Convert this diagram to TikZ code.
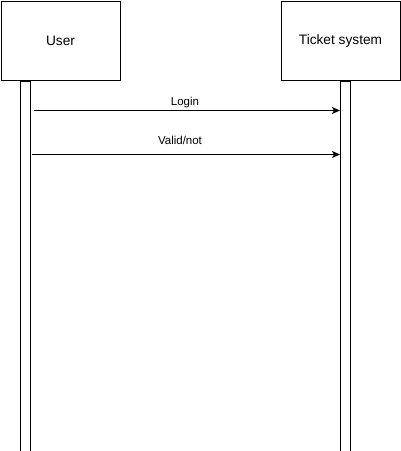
\documentclass[tikz,border=0pt]{standalone}
\usepackage{fontspec}
\setmainfont{Liberation Sans}
\usetikzlibrary{arrows.meta}
\begin{document}
\begin{tikzpicture}[x=1pt,y=-1pt,
  head/.style={draw,line width=1pt,minimum width=119pt,minimum height=79pt,inner sep=0pt,font=\fontsize{13.7}{16}\selectfont},
  life/.style={draw,line width=1pt,minimum width=10pt,minimum height=370pt,inner sep=0pt},
  msg/.style={line width=1pt,-{Stealth[length=8pt,width=7pt,inset=2pt]}},
  lbl/.style={font=\fontsize{11.5}{13}\selectfont,inner sep=0pt,anchor=base}]
\useasboundingbox (0,0) rectangle (401,451);
\node[head] (user) at (60.5,40.5) {User};
\node[head] (tick) at (340.5,40.5) {Ticket system};
\node[life,anchor=north] (ul) at (25.5,80.5) {};
\node[life,anchor=north] (tl) at (345.5,80.5) {};
\coordinate (s1) at (33.5,110.5);
\coordinate (s2) at (31.5,154.5);
\draw[msg] (s1) -- (s1 -| tl.west);
\draw[msg] (s2) -- (s2 -| tl.west);
\node[lbl] (l1) at (185,105) {Login};
\node[lbl] (l2) at (180,144) {Valid/not};
\end{tikzpicture}
\end{document}
